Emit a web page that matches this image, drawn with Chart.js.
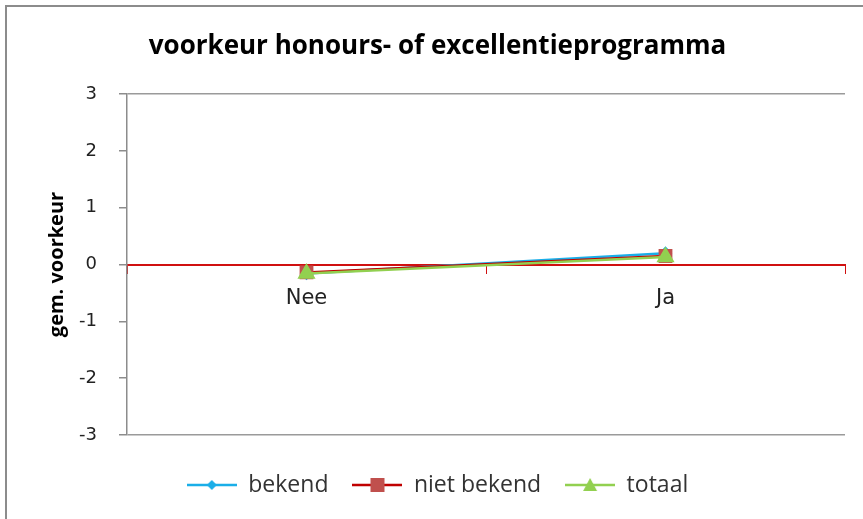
<!DOCTYPE html>
<html>
<head>
<meta charset="utf-8">
<script src="https://cdn.jsdelivr.net/npm/chart.js@4.4.1/dist/chart.umd.min.js"></script>
<style>
  html, body { margin: 0; padding: 0; background: #ffffff; }
  #wrap { position: relative; width: 863px; height: 519px; }
</style>
</head>
<body>
<div id="wrap"><canvas id="grafiek" width="863" height="519"></canvas></div>
<script>
const categorieen = ['Nee', 'Ja'];
const bekend = [-0.16, 0.2];
const nietBekend = [-0.14, 0.15];
const totaal = [-0.16, 0.13];
const yTicks = [-3, -2, -1, 0, 1, 2, 3];

const kleurBekend = '#1AAEE8';
const kleurNietBekend = '#C0504D';
const lijnNietBekend = '#C00000';
const kleurTotaal = '#92D050';

// legend symbol: a short line with the marker in the middle
function legendaSymbool(lijnKleur, vulKleur, vorm) {
    const c = document.createElement('canvas');
    c.width = 50; c.height = 16;
    const g = c.getContext('2d');
    g.strokeStyle = lijnKleur;
    g.lineWidth = 2.5;
    g.beginPath(); g.moveTo(0, 8); g.lineTo(50, 8); g.stroke();
    g.fillStyle = vulKleur;
    g.beginPath();
    if (vorm === 'diamond') {
        g.moveTo(25, 3); g.lineTo(30, 8); g.lineTo(25, 13); g.lineTo(20, 8);
    } else if (vorm === 'square') {
        g.rect(18, 1, 14, 14);
    } else {
        g.moveTo(25, 1); g.lineTo(32, 14); g.lineTo(18, 14);
    }
    g.closePath(); g.fill();
    return c;
}

const symbolen = [
    legendaSymbool(kleurBekend, kleurBekend, 'diamond'),
    legendaSymbool(lijnNietBekend, kleurNietBekend, 'square'),
    legendaSymbool(kleurTotaal, kleurTotaal, 'triangle')
];

const kader = {
    id: 'kader',
    beforeDraw(chart) {
        const ctx = chart.ctx;
        ctx.save();
        ctx.fillStyle = '#ffffff';
        ctx.fillRect(0, 0, chart.width, chart.height);
        ctx.strokeStyle = '#8c8c8c';
        ctx.lineWidth = 2;
        ctx.beginPath();
        ctx.moveTo(6, chart.height);
        ctx.lineTo(6, 6);
        ctx.lineTo(chart.width, 6);
        ctx.stroke();
        ctx.restore();
    }
};

const ctx = document.getElementById('grafiek').getContext('2d');

new Chart(ctx, {
    type: 'line',
    data: {
        labels: categorieen,
        datasets: [
            {
                label: 'bekend',
                data: bekend,
                order: 2,
                borderColor: kleurBekend,
                backgroundColor: kleurBekend,
                borderWidth: 2.5,
                pointStyle: 'rectRot',
                pointRadius: 5,
                tension: 0
            },
            {
                label: 'niet bekend',
                data: nietBekend,
                order: 1,
                borderColor: lijnNietBekend,
                backgroundColor: kleurNietBekend,
                pointBorderColor: kleurNietBekend,
                borderWidth: 2.5,
                pointStyle: 'rect',
                pointRadius: 8,
                tension: 0
            },
            {
                label: 'totaal',
                data: totaal,
                order: 0,
                borderColor: kleurTotaal,
                backgroundColor: kleurTotaal,
                borderWidth: 2.5,
                pointStyle: 'triangle',
                pointRadius: 8,
                tension: 0
            }
        ]
    },
    options: {
        responsive: false,
        animation: false,
        layout: { padding: { left: 30, right: 18, top: 10, bottom: 12.5 } },
        scales: {
            x: {
                position: { y: 0 },
                offset: true,
                grid: {
                    offset: true,
                    drawOnChartArea: false,
                    tickLength: 8,
                    tickColor: '#D01010'
                },
                border: { color: '#D01010', width: 2 },
                ticks: {
                    color: '#222',
                    font: { family: 'DejaVu Sans', size: 21 },
                    padding: 13
                }
            },
            y: {
                min: -3,
                max: 3,
                afterFit(scale) { scale.width = 97; },
                afterBuildTicks(scale) { scale.ticks = yTicks.map(v => ({ value: v })); },
                grid: {
                    color: c => (c.tick && Math.abs(c.tick.value) === 3) ? '#9a9a9a' : 'rgba(0,0,0,0)',
                    tickColor: '#8c8c8c',
                    tickLength: 8,
                    lineWidth: 1.5
                },
                border: { color: '#8c8c8c', width: 1.5 },
                ticks: {
                    color: '#222',
                    font: { family: 'DejaVu Sans', size: 18 },
                    padding: 22
                },
                title: {
                    display: true,
                    text: 'gem. voorkeur',
                    color: '#000',
                    font: { family: 'Open Sans', size: 20, weight: 'bold' },
                    padding: { top: 15, bottom: 0 }
                }
            }
        },
        plugins: {
            title: {
                display: true,
                text: 'voorkeur honours- of excellentieprogramma',
                color: '#000',
                font: { family: 'Open Sans', size: 26, weight: 'bold' },
                padding: { top: 21.4, bottom: 31.4 }
            },
            legend: {
                position: 'bottom',
                title: { display: true, text: ' ', font: { size: 1 }, padding: { top: 13.3, bottom: 0 } },
                labels: {
                    usePointStyle: true,
                    pointStyleWidth: 50,
                    padding: 24,
                    color: '#333',
                    font: { family: 'Open Sans', size: 23 },
                    generateLabels(chart) {
                        return chart.data.datasets.map((ds, i) => ({
                            text: ds.label,
                            pointStyle: symbolen[i],
                            datasetIndex: i,
                            fontColor: '#333',
                            lineWidth: 0,
                            strokeStyle: 'rgba(0,0,0,0)',
                            fillStyle: 'rgba(0,0,0,0)'
                        }));
                    }
                }
            },
            tooltip: { enabled: false }
        }
    },
    plugins: [kader]
});
</script>
</body>
</html>
